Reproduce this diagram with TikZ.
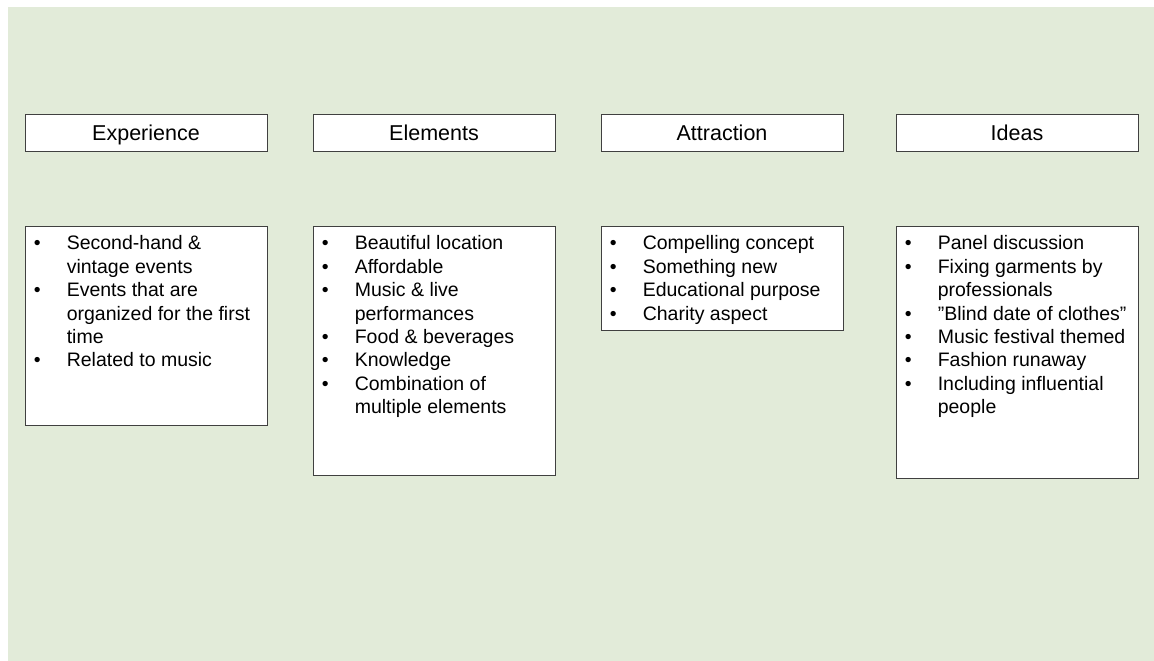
\documentclass[tikz,border=0pt]{standalone}
\usepackage{fontspec}
\setmainfont{Liberation Sans}
\usepackage{array}
\usetikzlibrary{positioning}
\definecolor{slidegreen}{HTML}{E2EBD9}
\definecolor{boxline}{HTML}{404040}
% a bulleted list; \bl starts an item, \bc carries on the line above
\newcommand{\bulletlist}[1]{\begin{tabular}{@{}l@{}l@{}}#1\end{tabular}}
\newcommand{\bl}[1]{\makebox[33pt][l]{\textbullet} & #1 \\}
\newcommand{\bc}[1]{ & #1 \\}
\tikzset{
	category/.style={
		rectangle,
		draw=boxline,
		line width=0.8pt,
		fill=white,
		minimum width=242pt,
		minimum height=37pt,
		inner sep=0pt,
		text height=16pt,text depth=0pt, % same baseline in every header
		font=\fontsize{21.5}{25}\selectfont
	},
	listbox/.style={
		rectangle,
		draw=boxline,
		line width=0.8pt,
		fill=white,
		minimum width=242pt,
		inner sep=0pt
	},
	itemlist/.style={
		anchor=north west,
		inner sep=0pt,
		font=\fontsize{19.5}{23.4}\selectfont
	}
}

\begin{document}
\begin{tikzpicture}[x=1pt,y=1pt]
	\useasboundingbox (0,0) rectangle (1154,-661);
	\fill[slidegreen] (8,-7) rectangle (1154,-661);
	% headers
	\node[category] (experience) at (146,-132.5) {Experience};
	\node[category,right=45.2pt of experience] (elements) {Elements};
	\node[category,right=45.2pt of elements] (attraction) {Attraction};
	\node[category,right=52.2pt of attraction] (ideas) {Ideas};
	% boxes below
	\node[listbox,minimum height=199pt,below=75pt of experience,anchor=north] (experiencebody) {};
	\node[listbox,minimum height=249pt,below=75pt of elements,anchor=north] (elementsbody) {};
	\node[listbox,minimum height=104pt,below=75pt of attraction,anchor=north] (attractionbody) {};
	\node[listbox,minimum height=252pt,below=75pt of ideas,anchor=north] (ideasbody) {};
	% lists
	\node[itemlist] (experiencelist) at ([shift={(9pt,-7pt)}]experiencebody.north west) {\bulletlist{%
		\bl{Second-hand \&}
		\bc{vintage events}
		\bl{Events that are}
		\bc{organized for the first}
		\bc{time}
		\bl{Related to music}}};
	\node[itemlist] (elementslist) at ([shift={(9pt,-7pt)}]elementsbody.north west) {\bulletlist{%
		\bl{Beautiful location}
		\bl{Affordable}
		\bl{Music \& live}
		\bc{performances}
		\bl{Food \& beverages}
		\bl{Knowledge}
		\bl{Combination of}
		\bc{multiple elements}}};
	\node[itemlist] (attractionlist) at ([shift={(9pt,-7pt)}]attractionbody.north west) {\bulletlist{%
		\bl{Compelling concept}
		\bl{Something new}
		\bl{Educational purpose}
		\bl{Charity aspect}}};
	\node[itemlist] (ideaslist) at ([shift={(9pt,-7pt)}]ideasbody.north west) {\bulletlist{%
		\bl{Panel discussion}
		\bl{Fixing garments by}
		\bc{professionals}
		\bl{"Blind date of clothes”}
		\bl{Music festival themed}
		\bl{Fashion runaway}
		\bl{Including influential}
		\bc{people}}};
\end{tikzpicture}
\end{document}
